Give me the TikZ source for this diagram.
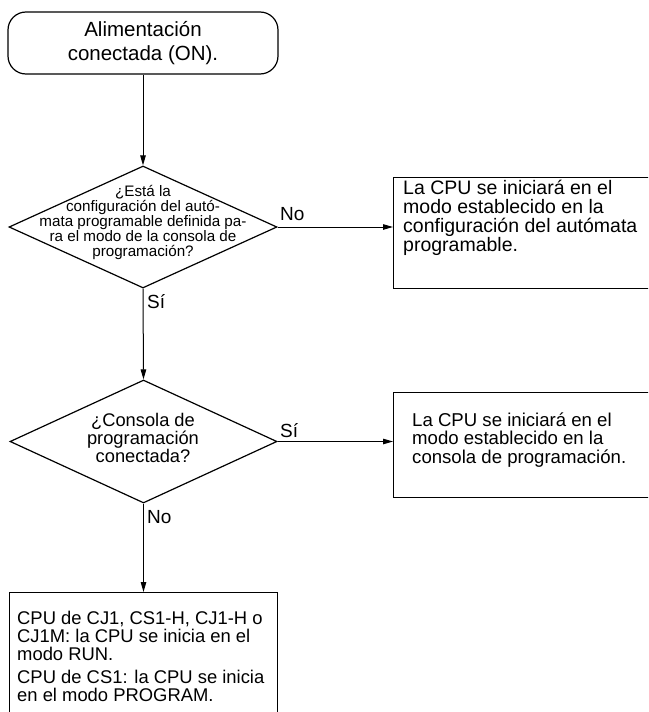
\documentclass[tikz,border=0pt]{standalone}
\usepackage{fontspec}
\setmainfont{Liberation Sans}
\usetikzlibrary{shapes.geometric,arrows.meta}
\tikzset{
  conn/.style={line width=1pt,-{Triangle[length=10pt,width=5.5pt]}},
  boxshape/.style={draw,line width=1.2pt,rectangle,inner sep=0pt},
  dshape/.style={draw,line width=1.2pt,diamond,inner sep=0pt,minimum width=268pt,minimum height=122pt},
  txt/.style={inner sep=0pt,font=\fontsize{18.5}{18.5}\selectfont},
  lbl/.style={inner sep=0pt,anchor=base west,font=\fontsize{19}{19}\selectfont}
}
\begin{document}
\begin{tikzpicture}[x=1pt,y=-1pt]
\useasboundingbox (0,0) rectangle (648,712);
\clip (0,0) rectangle (648,712);
% start
\node[boxshape,rounded corners=18pt,minimum width=270pt,minimum height=62pt] (start) at (143,43) {};
\node[txt,align=center,font=\fontsize{20.5}{24.5}\selectfont] (startt) at (143,43) {Alimentación\\conectada (ON).};
% decision 1
\node[dshape] (d1) at (143,227) {};
\node[inner sep=0pt,anchor=north,align=center,font=\fontsize{15.2}{15}\selectfont] (d1t) at (143,185.5) {¿Está la\\configuración del autó-\\mata programable definida pa-\\ra el modo de la consola de\\programación?};
% box 1
\node[boxshape,anchor=north west,minimum width=280pt,minimum height=111pt] (b1) at (393,177) {};
\node[txt,anchor=north west,align=left,font=\fontsize{19.5}{19}\selectfont] (b1t) at (403,180) {La CPU se iniciará en el\\modo establecido en la\\configuración del autómata\\programable.};
% decision 2
\node[dshape,minimum width=267pt,minimum height=123pt] (d2) at (143.5,441.5) {};
\node[inner sep=0pt,anchor=north,align=center,font=\fontsize{18.3}{18}\selectfont] (d2t) at (143,413) {¿Consola de\\programación\\conectada?};
% box 2
\node[boxshape,anchor=north west,minimum width=280pt,minimum height=105pt] (b2) at (393,392) {};
\node[txt,anchor=north west,align=left,font=\fontsize{18.6}{18.3}\selectfont] (b2t) at (412,412.5) {La CPU se iniciará en el\\modo establecido en la\\consola de programación.};
% box 3
\node[boxshape,anchor=north west,minimum width=268pt,minimum height=140pt] (b3) at (9,592) {};
\node[txt,anchor=north west,align=left,font=\fontsize{18.4}{18}\selectfont] (b3t) at (17,610.5) {CPU de CJ1, CS1-H, CJ1-H o\\CJ1M: la CPU se inicia en el\\modo RUN.\\[5pt]CPU de CS1: la CPU se inicia\\en el modo PROGRAM.};
% connectors
\draw[conn] (start.south) -- (d1.north);
\draw[conn] (d1.east) -- (d1.east -| b1.west);
\draw[conn] (d1.south) -- (d2.north);
\draw[conn] (d2.east) -- (d2.east -| b2.west);
\draw[conn] (d2.south) -- (b3.north -| d2.south);
% labels
\node[lbl] (lno1) at (280,220) {No};
\node[lbl] (lsi1) at (147,308) {Sí};
\node[lbl] (lsi2) at (280,437) {Sí};
\node[lbl] (lno2) at (147,523) {No};
\end{tikzpicture}
\end{document}
